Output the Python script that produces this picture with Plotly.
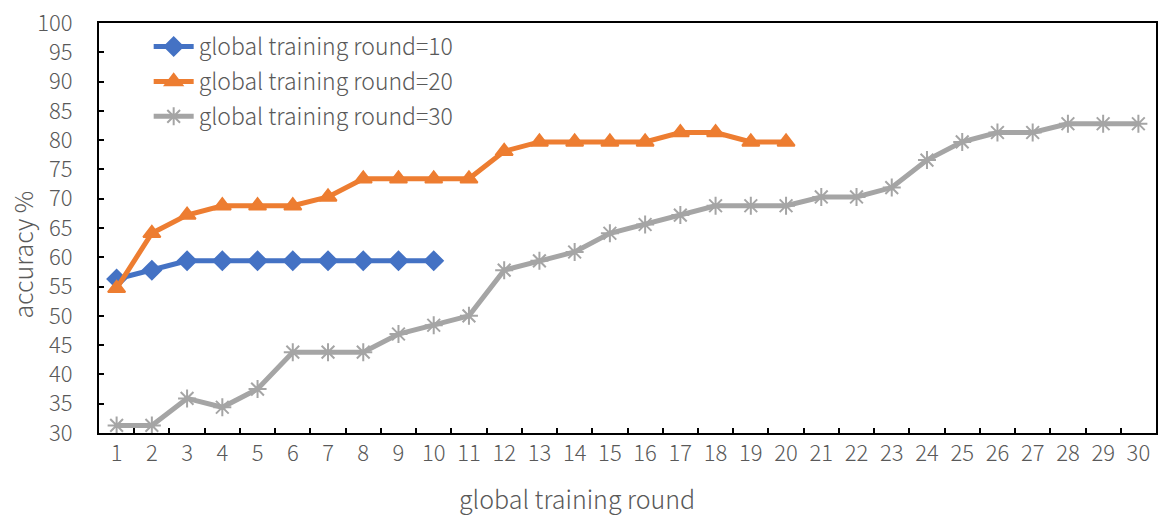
import plotly.graph_objects as go

rounds = [str(i) for i in range(1, 31)]

acc_round10 = [56.3, 57.8, 59.4, 59.4, 59.4, 59.4, 59.4, 59.4, 59.4, 59.4]
acc_round20 = [54.7, 64.1, 67.2, 68.8, 68.8, 68.8, 70.3, 73.4, 73.4, 73.4,
               73.4, 78.1, 79.7, 79.7, 79.7, 79.7, 81.3, 81.3, 79.7, 79.7]
acc_round30 = [31.3, 31.3, 35.9, 34.4, 37.5, 43.8, 43.8, 43.8, 46.9, 48.4,
               50.0, 57.8, 59.4, 60.9, 64.1, 65.6, 67.2, 68.8, 68.8, 68.8,
               70.3, 70.3, 71.9, 76.6, 79.7, 81.3, 81.3, 82.8, 82.8, 82.8]

series_names = ["global training round=10", "global training round=20", "global training round=30"]
colors = ["#4472C4", "#ED7D31", "#A5A5A5"]
symbols = ["diamond", "triangle-up", "asterisk-open"]
marker_sizes = [14, 15, 15]

FONT = "Noto Sans CJK SC"
GREY = "#595959"

fig = go.Figure()
for name, vals, c, s, ms in zip(series_names, [acc_round10, acc_round20, acc_round30],
                                colors, symbols, marker_sizes):
    fig.add_trace(go.Scatter(
        x=rounds[:len(vals)], y=vals, name=name, mode="lines+markers",
        line=dict(color=c, width=5),
        marker=dict(symbol=s, size=ms, color=c, line=dict(color=c, width=2)),
        legendgroup=name,
    ))

# axis titles placed as annotations so they can sit off-centre
fig.add_annotation(text="global training round", xref="paper", yref="paper",
                   x=0.452, y=-0.158, xanchor="center", yanchor="middle", showarrow=False,
                   font=dict(size=25, color=GREY, weight=300))
fig.add_annotation(text="accuracy %", xref="paper", yref="paper", textangle=-90,
                   x=-0.0727, y=0.4355, xanchor="center", yanchor="middle", showarrow=False,
                   font=dict(size=25, color=GREY, weight=300))

fig.update_layout(
    width=1163, height=517,
    margin=dict(l=99, r=5, t=22, b=84),
    paper_bgcolor="white", plot_bgcolor="white",
    font=dict(family=FONT, color=GREY, size=22, weight=300),
    showlegend=True,
    legend=dict(x=0.047, y=0.995, xanchor="left", yanchor="top",
                bgcolor="rgba(0,0,0,0)", font=dict(size=23, color=GREY, weight=300),
                traceorder="grouped", tracegroupgap=2, itemwidth=40),
    xaxis=dict(
        type="category", categoryorder="array", categoryarray=rounds,
        range=[-0.5, 29.5], tickson="boundaries",
        ticks="inside", ticklen=5, tickwidth=1.5, tickcolor="black",
        showline=True, linecolor="black", linewidth=2, mirror=True,
        showgrid=False, zeroline=False,
        tickfont=dict(size=22, color=GREY, weight=300),
    ),
    yaxis=dict(
        range=[30, 100], dtick=5, tick0=30,
        ticks="inside", ticklen=5, tickwidth=1.5, tickcolor="black",
        showline=True, linecolor="black", linewidth=2, mirror=True,
        showgrid=False, zeroline=False,
        tickfont=dict(size=22, color=GREY, weight=300), ticklabelstandoff=20,
    ),
)

fig.write_html("out.html")
